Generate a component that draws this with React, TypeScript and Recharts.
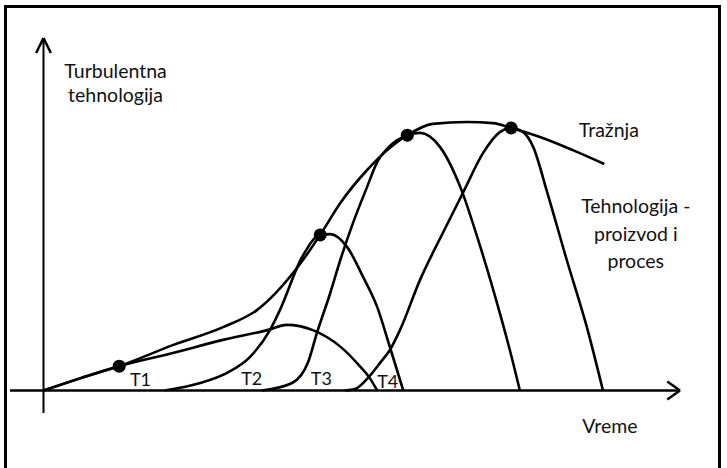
import React from "react";
import {
  ComposedChart,
  Line,
  Scatter,
  XAxis,
  YAxis,
  ReferenceLine,
  ReferenceDot,
} from "recharts";

// curves, in arbitrary time / intensity units
const demand = [
  { x: 0, y: 0 },
  { x: 5.5, y: 3.3 },
  { x: 11.3, y: 6.5 },
  { x: 19.3, y: 12.1 },
  { x: 26.8, y: 16.9 },
  { x: 31.9, y: 21.5 },
  { x: 37.8, y: 32.6 },
  { x: 41.3, y: 41.5 },
  { x: 44.3, y: 50.0 },
  { x: 48.3, y: 58.8 },
  { x: 51.3, y: 64.1 },
  { x: 54.3, y: 68.1 },
  { x: 58.1, y: 71.1 },
  { x: 63.2, y: 71.6 },
  { x: 67.1, y: 71.3 },
  { x: 69.8, y: 70.0 },
  { x: 74.1, y: 67.6 },
  { x: 79.0, y: 64.1 },
  { x: 83.7, y: 60.4 },
];

const tech1 = [
  { x: 0, y: 0 },
  { x: 5.6, y: 3.3 },
  { x: 11.3, y: 6.5 },
  { x: 19.3, y: 10.0 },
  { x: 26.8, y: 13.5 },
  { x: 33.4, y: 16.1 },
  { x: 36.3, y: 17.5 },
  { x: 40.2, y: 16.1 },
  { x: 44.3, y: 11.7 },
  { x: 47.2, y: 6.5 },
  { x: 48.7, y: 3.3 },
  { x: 49.8, y: 0 },
];

const tech2 = [
  { x: 18.1, y: 0 },
  { x: 23.4, y: 2.0 },
  { x: 27.4, y: 4.7 },
  { x: 30.8, y: 8.9 },
  { x: 33.8, y: 16.1 },
  { x: 35.3, y: 21.5 },
  { x: 38.6, y: 35.6 },
  { x: 41.3, y: 41.5 },
  { x: 42.8, y: 41.7 },
  { x: 45.3, y: 38.3 },
  { x: 47.7, y: 30.3 },
  { x: 49.8, y: 22.3 },
  { x: 51.7, y: 11.6 },
  { x: 53.7, y: 0 },
];

const tech3 = [
  { x: 32.6, y: 0 },
  { x: 37.1, y: 2.0 },
  { x: 39.5, y: 7.6 },
  { x: 40.8, y: 15.3 },
  { x: 42.8, y: 26.0 },
  { x: 44.3, y: 34.8 },
  { x: 46.2, y: 44.7 },
  { x: 48.3, y: 54.3 },
  { x: 49.8, y: 60.9 },
  { x: 51.7, y: 65.2 },
  { x: 54.3, y: 68.1 },
  { x: 56.2, y: 68.7 },
  { x: 59.2, y: 64.9 },
  { x: 62.2, y: 54.3 },
  { x: 65.2, y: 38.3 },
  { x: 68.1, y: 20.7 },
  { x: 69.6, y: 10.8 },
  { x: 71.1, y: 0 },
];

const tech4 = [
  { x: 45.0, y: 0 },
  { x: 46.5, y: 0.4 },
  { x: 48.4, y: 3.3 },
  { x: 50.2, y: 7.3 },
  { x: 51.7, y: 10.8 },
  { x: 53.2, y: 16.1 },
  { x: 56.2, y: 29.5 },
  { x: 59.6, y: 42.0 },
  { x: 62.6, y: 52.7 },
  { x: 65.6, y: 63.3 },
  { x: 68.1, y: 68.9 },
  { x: 69.8, y: 70.0 },
  { x: 71.6, y: 68.9 },
  { x: 73.1, y: 64.9 },
  { x: 75.2, y: 52.7 },
  { x: 78.1, y: 34.8 },
  { x: 81.1, y: 16.9 },
  { x: 83.5, y: 0 },
];

// points where each technology touches demand
const touchPoints = [
  { x: 11.3, y: 6.5 },
  { x: 41.3, y: 41.5 },
  { x: 54.3, y: 68.1 },
  { x: 69.8, y: 70.0 },
];

const techNames = ["T1", "T2", "T3", "T4"];
const yTitle = ["Turbulentna", "tehnologija"];
const demandName = ["Tražnja"];
const techTitle = ["Tehnologija -", "proizvod i", "proces"];
const xTitle = ["Vreme"];

const ink = "#000";
const font = "Lato, 'Open Sans', sans-serif";

const labels = [
  { lines: yTitle, x: 10.75, y: 83.3, anchor: "middle", size: 19.5, gap: 24 },
  { lines: demandName, x: 79.9, y: 67.6, anchor: "start", size: 19.5, gap: 0 },
  { lines: techTitle, x: 88.4, y: 47.3, anchor: "middle", size: 19.5, gap: 27.5 },
  { lines: xTitle, x: 80.4, y: -11.3, anchor: "start", size: 19.5, gap: 0 },
  { lines: [techNames[0]], x: 12.9, y: 1.2, anchor: "start", size: 18, gap: 0 },
  { lines: [techNames[1]], x: 29.5, y: 1.5, anchor: "start", size: 18, gap: 0 },
  { lines: [techNames[2]], x: 39.9, y: 1.5, anchor: "start", size: 18, gap: 0 },
  { lines: [techNames[3]], x: 49.8, y: 0.7, anchor: "start", size: 18, gap: 0 },
];

const curves = [demand, tech1, tech2, tech3, tech4];

function TextMark(props: any) {
  const { cx, cy, lines, anchor, size, gap } = props;
  return (
    <text
      x={cx}
      y={cy}
      textAnchor={anchor}
      fontFamily={font}
      fontSize={size}
      fill="#111"
    >
      {lines.map((t: string, i: number) => (
        <tspan key={i} x={cx} dy={i === 0 ? 0 : gap}>
          {t}
        </tspan>
      ))}
    </text>
  );
}

export default function App() {
  return (
    <div
      style={{
        position: "absolute",
        left: 0,
        top: 0,
        width: 727,
        height: 468,
        background: "#fff",
        overflow: "hidden",
      }}
    >
      <div
        style={{
          position: "absolute",
          left: 4,
          top: 5,
          width: 717,
          height: 480,
          boxSizing: "border-box",
          border: `3px solid ${ink}`,
          borderBottom: "none",
        }}
      />
      <ComposedChart
        width={727}
        height={468}
        margin={{ top: 38, right: 47, bottom: 55, left: 10 }}
        style={{ position: "absolute", left: 0, top: 0 }}
      >
        <XAxis type="number" dataKey="x" domain={[-5, 95]} allowDataOverflow hide />
        <YAxis type="number" dataKey="y" domain={[-6, 94]} allowDataOverflow hide />

        {/* axes with arrow heads */}
        <ReferenceLine segment={[{ x: -5, y: 0 }, { x: 95, y: 0 }]} stroke={ink} strokeWidth={2.5} ifOverflow="visible" />
        <ReferenceLine segment={[{ x: 0, y: -6 }, { x: 0, y: 94 }]} stroke={ink} strokeWidth={2} ifOverflow="visible" />
        <ReferenceLine segment={[{ x: 93.1, y: 2.4 }, { x: 95, y: 0 }]} stroke={ink} strokeWidth={2.5} ifOverflow="visible" />
        <ReferenceLine segment={[{ x: 93.1, y: -2.4 }, { x: 95, y: 0 }]} stroke={ink} strokeWidth={2.5} ifOverflow="visible" />
        <ReferenceLine segment={[{ x: -1.1, y: 90 }, { x: 0, y: 94 }]} stroke={ink} strokeWidth={2.5} ifOverflow="visible" />
        <ReferenceLine segment={[{ x: 1.1, y: 90 }, { x: 0, y: 94 }]} stroke={ink} strokeWidth={2.5} ifOverflow="visible" />

        {curves.map((c, i) => (
          <Line
            key={i}
            data={c}
            dataKey="y"
            type="monotone"
            stroke={ink}
            strokeWidth={2.6}
            dot={false}
            activeDot={false}
            isAnimationActive={false}
          />
        ))}

        <Scatter
          data={touchPoints}
          dataKey="y"
          fill={ink}
          isAnimationActive={false}
          shape={(p: any) => <circle cx={p.cx} cy={p.cy} r={6.5} fill={ink} />}
        />

        {labels.map((l, i) => (
          <ReferenceDot
            key={"l" + i}
            x={l.x}
            y={l.y}
            ifOverflow="visible"
            shape={(p: any) => <TextMark {...p} {...l} />}
          />
        ))}
      </ComposedChart>
    </div>
  );
}
